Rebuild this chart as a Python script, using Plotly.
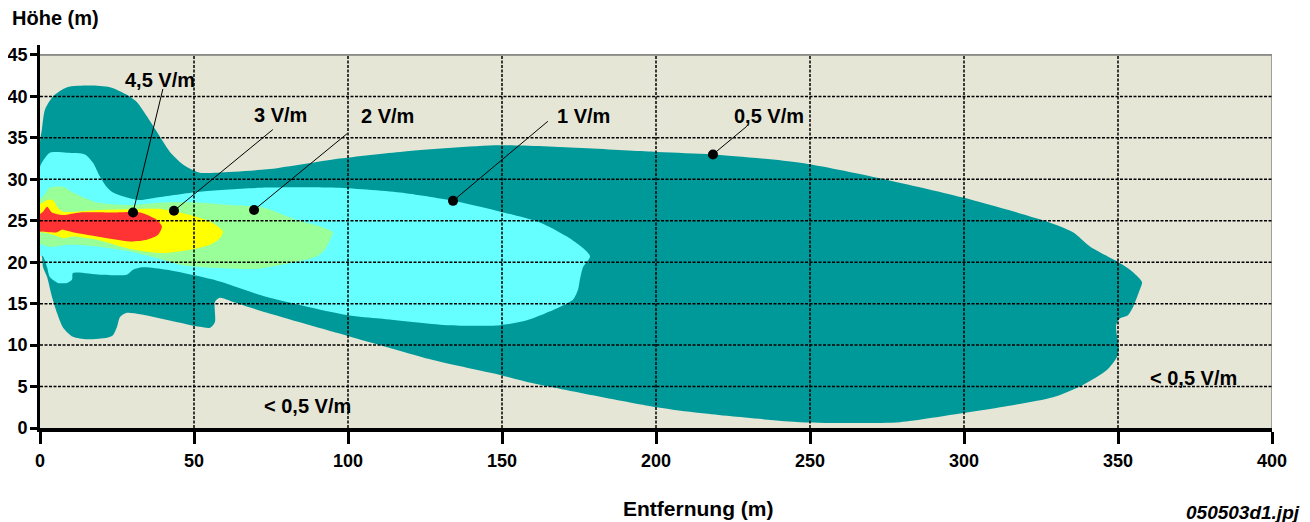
import plotly.graph_objects as go

# ---- data (x = Entfernung in m, y = Höhe in m) ----
teal_x = [0, 0, 0.6, 1.6, 4.2, 8.8, 16.2, 22.7, 28.2, 31.5, 34.7, 38.0, 42.2, 46.4, 51.9, 57.5, 73.7, 95.1,
          116.9, 149.4, 200.3, 218.5, 246.8, 271.8, 299.7, 326.9, 335.4, 340.9, 350.6, 354.9, 357.8, 357.1,
          354.9, 353.2, 350.6, 349.4, 349.7, 350.3, 349.7, 346.4, 338.6, 328.9, 311.7, 299.7, 279.2, 263.0,
          246.8, 214.3, 200.3, 160.1, 149.4, 127.6, 100.0, 73.7, 62.7, 58.4, 56.8, 56.8, 55.2, 51.9, 28.2,
          26.0, 25.0, 23.7, 21.8, 15.3, 10.7, 7.5, 5.5, 3.9, 2.3, 1.0, 0.6]
teal_y = [21.0, 34.5, 36.0, 38.4, 40.0, 41.1, 41.3, 41.1, 40.2, 39.3, 37.6, 35.7, 33.3, 31.8, 30.8, 30.8, 31.2, 32.4,
          33.3, 34.1, 33.3, 33.0, 32.0, 30.2, 27.8, 24.9, 23.6, 21.9, 19.9, 18.8, 17.6, 16.7,
          14.6, 13.6, 13.2, 12.4, 11.0, 9.8, 8.6, 7.0, 5.2, 3.7, 2.5, 1.8, 0.7, 0.6,
          0.7, 1.8, 2.5, 5.4, 6.4, 8.2, 11.1, 13.9, 15.2, 15.7, 15.2, 12.8, 12.1, 12.2, 13.9,
          13.4, 12.2, 11.2, 10.9, 10.7, 11.0, 12.1, 13.9, 15.8, 18.2, 19.4, 20.7]

cyan_x = [0, 0.6, 3.2, 8.8, 14.6, 17.2, 19.5, 21.8, 23.7, 28.2, 32.5, 38.0, 51.9, 73.7, 95.1, 116.9, 134.1,
          149.4, 162.3, 171.1, 176.3, 178.6, 176.3, 175.3, 174.7, 173.1, 168.8, 158.1, 149.4, 132.1, 110.4,
          100.0, 73.7, 56.2, 41.2, 33.4, 30.2, 28.2, 19.5, 10.7, 10.4, 8.8, 5.8, 3.2, 2.3, 1.0, 0]
cyan_y = [31.5, 32.0, 33.2, 33.2, 33.0, 32.0, 30.3, 29.0, 28.4, 27.8, 27.5, 27.8, 28.5, 29.0, 29.0, 28.4, 27.4,
          26.1, 24.8, 23.1, 21.7, 20.7, 19.4, 17.9, 16.7, 15.5, 14.6, 13.0, 12.4, 12.4, 13.2,
          13.6, 15.8, 17.9, 19.1, 19.4, 19.1, 18.5, 18.5, 18.7, 17.9, 17.5, 17.5, 18.2, 19.4, 20.7, 20.9]

green_x = [0, 1.0, 3.2, 7.5, 10.7, 18.5, 29.2, 39.9, 51.0, 61.7, 72.4, 83.4, 91.9, 95.1, 94.2, 92.5, 89.9,
           81.2, 70.5, 57.5, 45.5, 39.9, 29.2, 18.5, 8.8, 5.5, 2.3, 1.0, 0]
green_y = [27.6, 27.9, 29.0, 29.1, 28.4, 27.2, 26.9, 27.2, 27.2, 26.9, 26.6, 25.1, 24.2, 23.6, 22.7, 21.5, 20.7,
           19.9, 19.2, 19.3, 19.7, 20.3, 21.3, 21.9, 22.1, 21.9, 21.9, 22.1, 22.2]

yellow_x = [0, 1.0, 2.3, 4.2, 5.5, 7.5, 18.5, 29.2, 39.9, 48.7, 55.2, 59.4, 58.4, 55.2, 48.7, 39.9, 29.2,
            18.5, 10.7, 7.5, 4.2, 1.0, 0]
yellow_y = [27.0, 27.2, 27.5, 27.5, 26.7, 26.1, 26.3, 26.4, 26.4, 25.7, 24.9, 23.7, 22.9, 22.1, 21.5, 21.1, 21.6,
            22.7, 23.1, 22.9, 23.3, 23.6, 23.6]

red_x = [0, 1.0, 2.3, 3.9, 7.5, 13.0, 23.7, 32.5, 38.0, 39.6, 38.3, 34.7, 29.2, 18.5, 10.7, 7.1, 5.5, 3.2,
         1.0, 0]
red_y = [25.8, 26.1, 26.7, 26.0, 25.7, 26.0, 26.0, 26.0, 25.1, 24.3, 23.3, 22.7, 22.5, 23.1, 23.6, 23.9, 23.6, 23.6,
         23.7, 23.7]

label_text = ["4,5 V/m", "3 V/m", "2 V/m", "1 V/m", "0,5 V/m"]
label_x = [39.0, 78.2, 112.7, 176.3, 236.7]
label_y = [42.0, 37.8, 37.6, 37.6, 37.6]
leader_x0 = [39.9, 75.6, 99.7, 164.9, 229.5]
leader_y0 = [40.9, 36.0, 35.5, 37.0, 36.4]
dot_x = [30.2, 43.5, 69.5, 134.1, 218.5]
dot_y = [26.0, 26.2, 26.3, 27.4, 33.0]

low_text = ["< 0,5 V/m", "< 0,5 V/m"]
low_x = [87.0, 374.4]
low_y = [2.7, 6.0]

x_ticks = [0, 50, 100, 150, 200, 250, 300, 350, 400]
y_ticks = [0, 5, 10, 15, 20, 25, 30, 35, 40, 45]

# ---- styling ----
BEIGE = "#E6E6D6"
FONT = "Liberation Sans"
TICKFONT = "Liberation Sans Narrow, Liberation Sans"
regions = [
    (teal_x, teal_y, "#009999"),
    (cyan_x, cyan_y, "#66FFFF"),
    (green_x, green_y, "#99FF99"),
    (yellow_x, yellow_y, "#FFFF00"),
    (red_x, red_y, "#FF3333"),
]

fig = go.Figure()
for xs, ys, col in regions:
    fig.add_trace(go.Scatter(
        x=xs + [xs[0]], y=ys + [ys[0]], mode="lines", fill="toself", fillcolor=col,
        line=dict(width=0, color=col, shape="spline", smoothing=0.7),
        hoverinfo="skip", showlegend=False))

# leader lines
for i in range(len(dot_x)):
    fig.add_trace(go.Scatter(
        x=[leader_x0[i], dot_x[i]], y=[leader_y0[i], dot_y[i]], mode="lines",
        line=dict(color="black", width=1), hoverinfo="skip", showlegend=False))
fig.add_trace(go.Scatter(x=dot_x, y=dot_y, mode="markers",
                         marker=dict(color="black", size=10), hoverinfo="skip", showlegend=False))

shapes = [dict(type="rect", xref="x", yref="y", x0=0, x1=400, y0=0, y1=45,
               fillcolor=BEIGE, line=dict(width=0), layer="below"),
          dict(type="line", xref="x", yref="y", x0=0, x1=400, y0=45, y1=45,
               line=dict(color="#333333", width=1), layer="above"),
          dict(type="line", xref="x", yref="y", x0=400, x1=400, y0=0, y1=45,
               line=dict(color="#888888", width=1.5), layer="above")]
for xv in x_ticks[1:-1]:
    shapes.append(dict(type="line", xref="x", yref="y", x0=xv, x1=xv, y0=0, y1=45,
                       line=dict(color="black", width=1.5, dash="3px,1.5px"), layer="above"))
for yv in y_ticks[1:-1]:
    shapes.append(dict(type="line", xref="x", yref="y", x0=0, x1=400, y0=yv, y1=yv,
                       line=dict(color="black", width=1.5, dash="3px,1.5px"), layer="above"))

# the page body has an 8px margin, so the figure is placed at (8, 8) in the window
OFF = 8
W, H = 1310 - OFF, 522 - OFF
ML, MR, MT, MB = 40 - OFF, 38, 45 - OFF, 94
pw, ph = W - ML - MR, H - MT - MB


def px2paper(px, py):
    # px, py are window pixel coordinates
    return (px - OFF - ML) / pw, (H - MB - (py - OFF)) / ph


annotations = []
for t, x, y in zip(label_text + low_text, label_x + low_x, label_y + low_y):
    annotations.append(dict(x=x, y=y, xref="x", yref="y", text=t, showarrow=False,
                            xanchor="center", yanchor="middle",
                            font=dict(family=FONT, size=20, color="black", weight="bold")))

hx, hy = px2paper(10, 18)
annotations.append(dict(x=hx, y=hy, xref="paper", yref="paper", text="Höhe (m)", showarrow=False,
                        xanchor="left", yanchor="middle",
                        font=dict(family=FONT, size=20, color="black", weight="bold")))
ex, ey = px2paper(698, 508)
annotations.append(dict(x=ex, y=ey, xref="paper", yref="paper", text="Entfernung (m)", showarrow=False,
                        xanchor="center", yanchor="middle",
                        font=dict(family=FONT, size=21, color="black", weight="bold")))
fx, fy = px2paper(1243, 513)
annotations.append(dict(x=fx, y=fy, xref="paper", yref="paper", text="<i>050503d1.jpj</i>",
                        showarrow=False, xanchor="center", yanchor="middle",
                        font=dict(family=FONT, size=19, color="black", weight="bold")))

fig.update_layout(
    width=W, height=H, margin=dict(l=ML, r=MR, t=MT, b=MB, autoexpand=False),
    paper_bgcolor="white", plot_bgcolor="white",
    shapes=shapes, annotations=annotations, showlegend=False,
    xaxis=dict(range=[0, 400], tickvals=x_ticks, showgrid=False, zeroline=False, automargin=False,
               showline=True, linecolor="black", linewidth=4,
               ticks="outside", ticklen=12, tickwidth=3, tickcolor="black",
               ticklabelstandoff=1,
               tickfont=dict(family=TICKFONT, size=18, color="black", weight="bold")),
    yaxis=dict(range=[0, 46.2], tickvals=y_ticks, showgrid=False, zeroline=False, automargin=False,
               showline=True, linecolor="black", linewidth=3,
               ticks="outside", ticklen=7, tickwidth=3, tickcolor="black",
               ticklabelstandoff=-1,
               tickfont=dict(family=TICKFONT, size=18, color="black", weight="bold")),
)
fig.write_html("out.html")
